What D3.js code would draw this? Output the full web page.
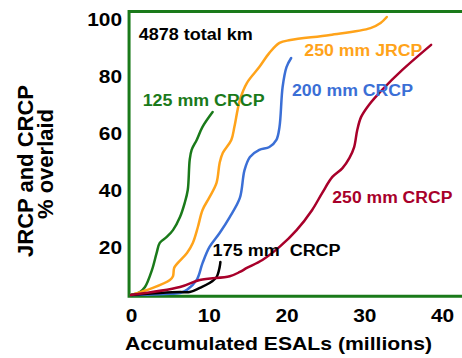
<!DOCTYPE html>
<html>
<head>
<meta charset="utf-8">
<script src="https://cdnjs.cloudflare.com/ajax/libs/d3/7.8.5/d3.min.js"></script>
<style>
  body { margin: 0; background: #fff; }
  text { font-family: Arial, "Liberation Sans", sans-serif; font-weight: bold; }
</style>
</head>
<body>
<div id="chart"></div>
<script>
// Chart size
var svgWidth = 462;
var svgHeight = 358;

// Tick values
var xTicks = [0, 10, 20, 30, 40];
var yTicks = [20, 40, 60, 80, 100];

// Series: [accumulated ESALs (millions), % overlaid]
var crcp125 = [[0, 3], [1.15, 4.05], [1.8, 5.8], [2.7, 11.8], [3.3, 17.8], [3.7, 21.3], [4.6, 23.4],
  [5.4, 25.8], [6.3, 30.4], [6.9, 35.3], [7.3, 39.9], [7.55, 50.5], [7.8, 54], [8.45, 57.5],
  [9.2, 62.1], [10.5, 67.3]];
var jrcp250 = [[0, 3], [2.8, 5.5], [5.0, 8.3], [5.4, 9.6], [5.55, 12.5], [6.0, 14.2], [7.2, 17.8],
  [7.95, 21.3], [8.6, 26.9], [9.2, 32.9], [10.1, 37.4], [11.0, 42.4], [11.4, 49.4], [11.8, 52.9],
  [12.9, 57.5], [13.3, 62.1], [14.0, 71.5], [14.9, 77.5], [16.5, 83.1], [17.8, 88.1], [19.1, 91.6],
  [20.5, 92.6], [25.6, 94.4], [30.8, 96.8], [32.1, 98.6], [32.9, 100.7]];
var crcp200 = [[0, 3], [4.4, 3.35], [6.3, 3.7], [7.2, 4.8], [8.45, 8.3], [9.2, 14.2], [10.1, 19.9],
  [11.4, 24.8], [12.7, 30.4], [14.0, 37.1], [14.6, 46.9], [15.3, 51.5], [16.5, 54], [17.8, 55],
  [18.7, 57.5], [19.1, 62.1], [19.5, 76.1], [20.0, 83.1], [20.6, 86.3]];
var crcp175 = [[0, 3], [3.7, 3.7], [6.3, 4.05], [7.55, 4.05], [8.85, 5.5], [10.1, 7.2], [11.0, 9.3],
  [11.4, 12.8], [11.5, 14.6]];
var crcp250 = [[0, 3], [6.3, 5.8], [8.85, 8.3], [12.7, 9.6], [14.0, 11.1], [14.9, 12.5], [16.9, 15.3],
  [19.1, 19.9], [21.3, 25.8], [23.3, 32.9], [24.6, 38.9], [25.9, 44.5], [27.2, 47.6], [28.1, 51.2],
  [28.7, 55], [29.1, 61], [29.6, 65.6], [30.6, 69.8], [32.3, 75.1], [34.9, 82.1], [38.6, 90.9]];

var series = [
  { name: "125 mm CRCP", values: crcp125, color: "#1a7a1a", lx: 1.5, ly: 69.5, len: 122 },
  { name: "250 mm JRCP", values: jrcp250, color: "#ffa31a", lx: 22.3, ly: 87, len: 118 },
  { name: "200 mm CRCP", values: crcp200, color: "#3b6fd6", lx: 20.7, ly: 73, len: 121 },
  { name: "175 mm  CRCP", values: crcp175, color: "#000000", lx: 10.5, ly: 16.8, len: 128 },
  { name: "250 mm CRCP", values: crcp250, color: "#a8002a", lx: 25.9, ly: 35.2, len: 120 }
];

var frameColor = "#1a7a1a";

var svg = d3.select("#chart")
  .append("svg")
  .attr("width", svgWidth)
  .attr("height", svgHeight);

// Scales
var x = d3.scaleLinear().domain([0, 40]).range([131, 442]);
var y = d3.scaleLinear().domain([3, 100]).range([295, 19]);

// stretch text horizontally to match the wide lettering of the original
function stretch(sel, k) {
  sel.each(function() {
    var w = this.getComputedTextLength();
    d3.select(this).attr("textLength", w * k).attr("lengthAdjust", "spacingAndGlyphs");
  });
}

// Frame: left, top and bottom (open on the right)
var frame = svg.append("g")
  .attr("stroke", frameColor)
  .attr("stroke-width", 3)
  .attr("fill", "none");
frame.append("path")
  .attr("d", "M" + svgWidth + "," + y(102.6) + "H" + x(-0.25) + "V" + y(2.6) + "H" + svgWidth);

// Curves
var line = d3.line()
  .x(function(d) { return x(d[0]); })
  .y(function(d) { return y(d[1]); })
  .curve(d3.curveCatmullRom.alpha(0.5));

svg.append("g").selectAll("path")
  .data(series)
  .enter().append("path")
    .attr("d", function(d) { return line(d.values); })
    .attr("fill", "none")
    .attr("stroke", function(d) { return d.color; })
    .attr("stroke-width", 2.5)
    .attr("stroke-linecap", "round");

// Series labels
svg.append("g").selectAll("text")
  .data(series)
  .enter().append("text")
    .attr("x", function(d) { return x(d.lx); })
    .attr("y", function(d) { return y(d.ly); })
    .attr("fill", function(d) { return d.color; })
    .attr("font-size", 16)
    .attr("textLength", function(d) { return d.len; })
    .attr("lengthAdjust", "spacingAndGlyphs")
    .style("white-space", "pre")
    .text(function(d) { return d.name; });

svg.append("text")
  .attr("x", x(1.0))
  .attr("y", y(92.5))
  .attr("font-size", 16)
  .attr("fill", "#000")
  .attr("textLength", 114)
  .attr("lengthAdjust", "spacingAndGlyphs")
  .text("4878 total km");

// Axes (labels only)
var bottomAxis = d3.axisBottom(x).tickValues(xTicks).tickSize(0).tickPadding(0);
var xg = svg.append("g")
  .attr("transform", "translate(0,309)")
  .call(bottomAxis);
xg.select(".domain").remove();
xg.selectAll("text")
  .attr("dy", "0.71em")
  .attr("font-size", 18)
  .attr("font-family", null)
  .attr("fill", "#000")
  .call(stretch, 1.16);

var leftAxis = d3.axisLeft(y).tickValues(yTicks).tickSize(0).tickPadding(0);
var yg = svg.append("g")
  .attr("transform", "translate(122,0)")
  .call(leftAxis);
yg.select(".domain").remove();
yg.selectAll("text")
  .attr("dy", "0.36em")
  .attr("font-size", 18)
  .attr("font-family", null)
  .attr("fill", "#000")
  .call(stretch, 1.16);

// Axis titles
svg.append("text")
  .attr("x", 278.5)
  .attr("y", 350)
  .attr("text-anchor", "middle")
  .attr("font-size", 19)
  .attr("textLength", 307)
  .attr("lengthAdjust", "spacingAndGlyphs")
  .text("Accumulated ESALs (millions)");

svg.append("text")
  .attr("transform", "translate(33,171) rotate(-90)")
  .attr("text-anchor", "middle")
  .attr("font-size", 22)
  .text("JRCP and CRCP");

svg.append("text")
  .attr("transform", "translate(53,164) rotate(-90)")
  .attr("text-anchor", "middle")
  .attr("font-size", 22)
  .text("% overlaid");
</script>
</body>
</html>
